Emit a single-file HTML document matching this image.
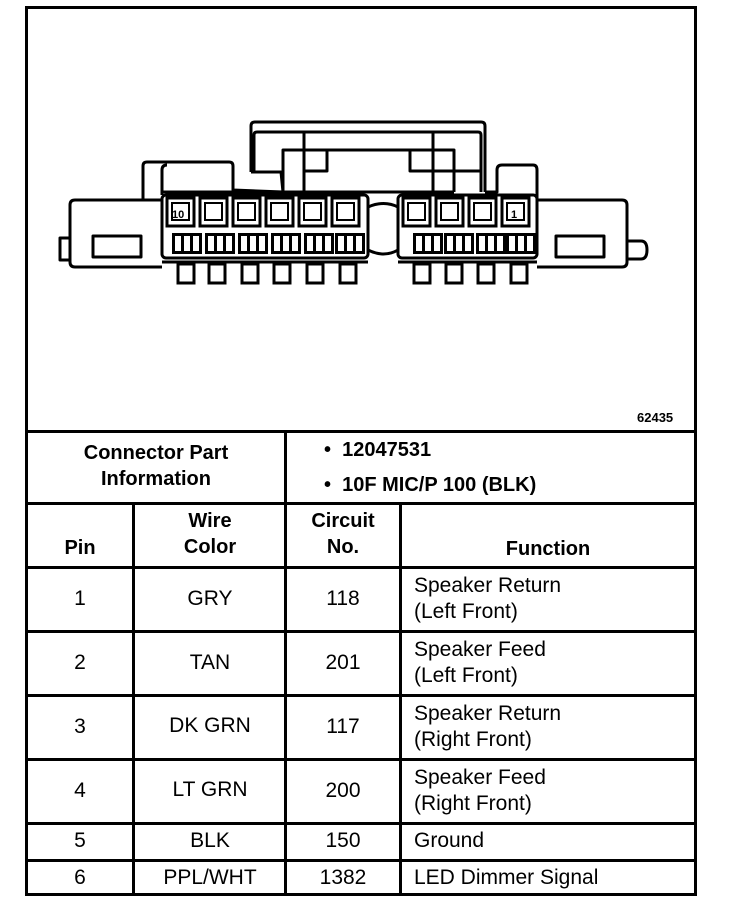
<!DOCTYPE html>
<html><head><meta charset="utf-8">
<style>
html,body{margin:0;padding:0;background:#fff;}
body{width:736px;height:920px;position:relative;overflow:hidden;font-family:"Liberation Sans",Arial,sans-serif;color:#000;}
.h{position:absolute;background:#000;height:3px;}
.v{position:absolute;background:#000;width:3px;}
.t{position:absolute;font-size:21px;line-height:26px;white-space:nowrap;}
.b{font-weight:bold;font-size:20px;}
.c{text-align:center;}
</style></head><body>
<div class="h" style="left:25px;top:6px;width:672px;"></div>
<div class="h" style="left:25px;top:893px;width:672px;"></div>
<div class="v" style="left:25px;top:6px;height:890px;"></div>
<div class="v" style="left:694px;top:6px;height:890px;"></div>
<div class="h" style="left:25px;top:430px;width:672px;"></div>
<div class="h" style="left:25px;top:502px;width:672px;"></div>
<div class="h" style="left:25px;top:566px;width:672px;"></div>
<div class="h" style="left:25px;top:630px;width:672px;"></div>
<div class="h" style="left:25px;top:694px;width:672px;"></div>
<div class="h" style="left:25px;top:758px;width:672px;"></div>
<div class="h" style="left:25px;top:822px;width:672px;"></div>
<div class="h" style="left:25px;top:859px;width:672px;"></div>
<div class="v" style="left:284px;top:430px;height:465px;"></div>
<div class="v" style="left:132px;top:502px;height:393px;"></div>
<div class="v" style="left:399px;top:502px;height:393px;"></div>

<svg style="position:absolute;left:0;top:0" width="736" height="430" viewBox="0 0 736 430">
<defs>
<g id="tb" fill="#000"><rect x="0" y="0" width="3" height="21"/><rect x="9" y="0" width="3" height="21"/><rect x="18" y="0" width="3" height="21"/><rect x="27" y="0" width="3" height="21"/><rect x="0" y="0" width="30" height="3"/><rect x="0" y="18" width="30" height="3"/></g>
</defs>
<g fill="none" stroke="#000" stroke-width="3" stroke-linejoin="round">
<path d="M251,172 L251,126 Q251,122 255,122 L481,122 Q485,122 485,126 L485,192"/>
<path d="M254,172 L254,135 Q254,132 257,132 L478,132 Q481,132 481,135 L481,192"/>
<path d="M251,172 L281,172 L283,192"/>
<path d="M283,192 L283,150 L454,150 L454,192"/>
<path d="M304,132 L304,192 M433,132 L433,192"/>
<path d="M304,171 L327,171 L327,150 M410,150 L410,171 L433,171"/>
<path d="M433,171 L481,171"/>
<path d="M143,200 L143,166 Q143,162 147,162 L229,162 Q233,162 233,166 L233,190 L283,192"/>
<path d="M162,195 L162,170 Q162,165 167,165"/>
<path d="M162,192 L454,192"/>
<path d="M485,192 L497,192 L497,170 Q497,165 502,165 L533,165 Q537,165 537,170 L537,200"/>
<path d="M162,200 L75,200 Q70,200 70,205 L70,262 Q70,267 75,267 L162,267"/>
<path d="M537,200 L622,200 Q627,200 627,205 L627,262 Q627,267 622,267 L537,267"/>
<path d="M70,238 L60,238 L60,260 L70,260"/>
<path d="M627,241 L641,241 Q647,241 647,250 Q647,259 641,259 L627,259"/>
<rect x="93" y="236" width="48" height="21"/>
<rect x="556" y="236" width="48" height="21"/>
<rect x="162" y="195" width="206" height="63" rx="4"/>
<rect x="398" y="195" width="139" height="63" rx="4"/>
<path d="M368,207 Q384,200 398,207 M368,250 Q384,258 398,250"/>
<path d="M162,262 L368,262 M398,262 L537,262"/>
</g>
<g stroke="#000" fill="none" stroke-width="3">
<rect x="167" y="198" width="27" height="28"/>
<rect x="200" y="198" width="27" height="28"/>
<rect x="233" y="198" width="27" height="28"/>
<rect x="266" y="198" width="27" height="28"/>
<rect x="299" y="198" width="27" height="28"/>
<rect x="332" y="198" width="27" height="28"/>
<rect x="403" y="198" width="27" height="28"/>
<rect x="436" y="198" width="27" height="28"/>
<rect x="469" y="198" width="27" height="28"/>
<rect x="502" y="198" width="27" height="28"/>
</g>
<g stroke="#000" fill="none" stroke-width="2">
<rect x="172" y="203" width="17" height="17"/><rect x="205" y="203" width="17" height="17"/><rect x="238" y="203" width="17" height="17"/><rect x="271" y="203" width="17" height="17"/><rect x="304" y="203" width="17" height="17"/><rect x="337" y="203" width="17" height="17"/>
<rect x="408" y="203" width="17" height="17"/><rect x="441" y="203" width="17" height="17"/><rect x="474" y="203" width="17" height="17"/><rect x="507" y="203" width="17" height="17"/>
</g>
<text x="172" y="218" font-family="Liberation Sans" font-size="11" font-weight="bold">10</text>
<text x="511" y="218" font-family="Liberation Sans" font-size="11" font-weight="bold">1</text>
<use href="#tb" x="172" y="233"/><use href="#tb" x="205" y="233"/><use href="#tb" x="238" y="233"/><use href="#tb" x="271" y="233"/><use href="#tb" x="304" y="233"/><use href="#tb" x="335" y="233"/>
<use href="#tb" x="413" y="233"/><use href="#tb" x="444" y="233"/><use href="#tb" x="476" y="233"/><use href="#tb" x="506" y="233"/>
<g fill="none" stroke="#000" stroke-width="3">
<rect x="178" y="264" width="16" height="19"/><rect x="209" y="264" width="16" height="19"/><rect x="242" y="264" width="16" height="19"/><rect x="274" y="264" width="16" height="19"/><rect x="307" y="264" width="16" height="19"/><rect x="340" y="264" width="16" height="19"/>
<rect x="414" y="264" width="16" height="19"/><rect x="446" y="264" width="16" height="19"/><rect x="478" y="264" width="16" height="19"/><rect x="511" y="264" width="16" height="19"/>
</g>
<text x="637" y="422" font-family="Liberation Sans" font-size="13" font-weight="bold">62435</text>
</svg>

<div class="t b c" style="left:28px;width:256px;top:440px;">Connector Part<br>Information</div>
<div class="t b" style="left:324px;top:437px;">•&nbsp; 12047531</div>
<div class="t b" style="left:324px;top:472px;">•&nbsp; 10F MIC/P 100 (BLK)</div>
<div class="t b c" style="left:28px;width:104px;top:535px;">Pin</div>
<div class="t b c" style="left:135px;width:150px;top:508px;">Wire<br>Color</div>
<div class="t b c" style="left:287px;width:112px;top:508px;">Circuit<br>No.</div>
<div class="t b c" style="left:402px;width:292px;top:536px;">Function</div>

<div class="t c" style="left:28px;width:104px;top:586px;">1</div>
<div class="t c" style="left:135px;width:150px;top:586px;">GRY</div>
<div class="t c" style="left:287px;width:112px;top:586px;">118</div>
<div class="t" style="left:414px;top:573px;">Speaker Return<br>(Left Front)</div>

<div class="t c" style="left:28px;width:104px;top:650px;">2</div>
<div class="t c" style="left:135px;width:150px;top:650px;">TAN</div>
<div class="t c" style="left:287px;width:112px;top:650px;">201</div>
<div class="t" style="left:414px;top:637px;">Speaker Feed<br>(Left Front)</div>

<div class="t c" style="left:28px;width:104px;top:714px;">3</div>
<div class="t c" style="left:135px;width:150px;top:713px;">DK GRN</div>
<div class="t c" style="left:287px;width:112px;top:714px;">117</div>
<div class="t" style="left:414px;top:701px;">Speaker Return<br>(Right Front)</div>

<div class="t c" style="left:28px;width:104px;top:778px;">4</div>
<div class="t c" style="left:135px;width:150px;top:777px;">LT GRN</div>
<div class="t c" style="left:287px;width:112px;top:778px;">200</div>
<div class="t" style="left:414px;top:765px;">Speaker Feed<br>(Right Front)</div>

<div class="t c" style="left:28px;width:104px;top:828px;">5</div>
<div class="t c" style="left:135px;width:150px;top:828px;">BLK</div>
<div class="t c" style="left:287px;width:112px;top:828px;">150</div>
<div class="t" style="left:414px;top:828px;">Ground</div>

<div class="t c" style="left:28px;width:104px;top:865px;">6</div>
<div class="t c" style="left:135px;width:150px;top:865px;">PPL/WHT</div>
<div class="t c" style="left:287px;width:112px;top:865px;">1382</div>
<div class="t" style="left:414px;top:865px;">LED Dimmer Signal</div>
</body></html>
